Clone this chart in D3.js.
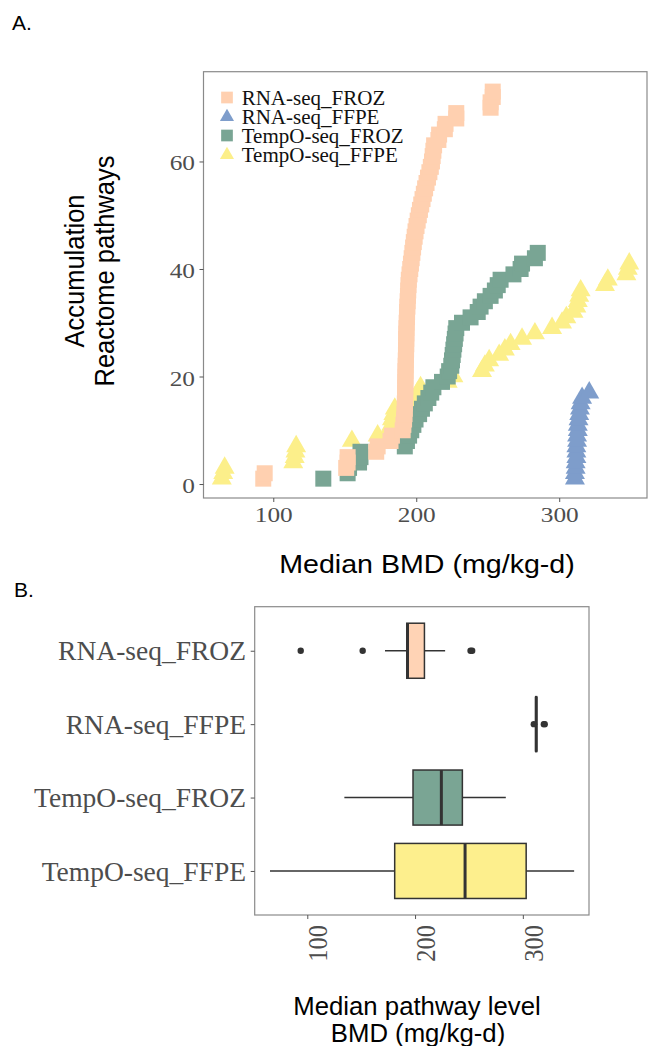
<!DOCTYPE html>
<html><head><meta charset="utf-8">
<script src="https://cdn.jsdelivr.net/npm/d3@7"></script>
<style>body{margin:0;background:#fff}svg{display:block}</style>
</head><body>
<svg id="c" width="648" height="1046"></svg>
<script>
// ---------- DATA ----------
const seriesNames = ["RNA-seq_FROZ", "RNA-seq_FFPE", "TempO-seq_FROZ", "TempO-seq_FFPE"];
const seriesColors = ["#FFD0B0", "#7E9DCB", "#79A594", "#FCEF8A"];
const seriesShapes = ["square", "triangle", "square", "triangle"];

// sorted median BMD of each pathway (panel A, cumulative)
const rnaFroz = [93,94,151,152,152,172,173,182,183,190.5,191,191.5,191.8,192,192,192.2,192.3,192.3,192.4,192.5,192.5,192.6,192.7,192.8,192.9,193,193,193.1,193.2,193.3,193.5,193.6,193.8,194,194.2,194.4,194.6,194.8,195.3,195.8,196.3,196.8,197.3,197.8,198.3,198.9,199.5,200.2,201,201.8,202.6,203.5,204.4,205.3,206.2,207.2,208.2,209.2,210.2,211,211.5,212,212.5,215.5,216,220,220.5,228,228,252,252,253.5,253.5];
const rnaFfpe = [311,311,311.5,311.5,312,312,312,312.5,312.5,313,313,313.5,314,314.5,315,316,321];
const tempoFroz = [135,152,153,160,161,161,192,193.5,195,196.5,198,199.5,202,204,206,208.5,210.5,212,218,222,223,224.5,225,225.5,226,226.5,227,227.5,228,232,238,243,245,248,252,255,257,259,268,273,274,283,285];
const tempoFfpe = [64,65,66,114,115,115.5,116,155,173,181,182.5,183,184,185,199,200,201,203,222,226,246,248,251,258,262,266,274,283,295,302,305,310,312,313,314,315,332,334,347,348,349];
const seriesValues = [rnaFroz, rnaFfpe, tempoFroz, tempoFfpe];

const xTicks = [100, 200, 300];
const yTicksA = [0, 20, 40, 60];

// panel B box statistics
const boxQ1  = [192.3, 312.0, 198.1, 181.1];
const boxMed = [193.0, 312.4, 224.4, 246.4];
const boxQ3  = [208.7, 312.8, 243.9, 303.1];
const boxLo  = [172.1, 311.5, 134.4, 65.4];
const boxHi  = [227.9, 313.5, 284.2, 347.6];
const boxOut = [[93.9, 151.4, 251.5, 253], [310.2, 319.5, 320.3], [], []];
const boxFill = ["#FFD3B5", "#7E9DCB", "#7AA594", "#FDEF8D"];

// ---------- SETUP ----------
const svg = d3.select("#c");
const SERIF = "'Liberation Serif','Times New Roman',serif";
const SANS = "'Liberation Sans',Arial,Helvetica,sans-serif";
const xDomain = [51.2, 361.4];

function label(parent, x, y, s, o) {
  let tr = `translate(${x},${y})`;
  if (o.sx) tr += ` scale(${o.sx},1)`;
  if (o.rot) tr += ` rotate(${o.rot})`;
  const g = parent.append("g").attr("transform", tr);
  g.append("text").text(s)
    .attr("font-family", o.ff || SERIF)
    .attr("font-size", o.fs)
    .attr("fill", o.fill || "#4d4d4d")
    .attr("text-anchor", o.anchor || "start");
  return g;
}

// ---------- PANEL A ----------
const A = {l: 203.5, r: 647, t: 71.7, b: 498};
const xA = d3.scaleLinear().domain(xDomain).range([A.l, A.r]);
const yA = d3.scaleLinear().domain([-2.6, 76.7]).range([A.b, A.t]);
const sq = d3.symbol().type(d3.symbolSquare).size(256);
const tri = d3.symbol().type(d3.symbolTriangle).size(173);

const gA = svg.append("g");
gA.append("rect").attr("x", A.l).attr("y", A.t).attr("width", A.r - A.l).attr("height", A.b - A.t)
  .attr("fill", "#fff");

// draw order: last legend entry first
[3, 2, 1, 0].forEach(i => {
  const g = gA.append("g").attr("fill", seriesColors[i]);
  g.selectAll("path").data(seriesValues[i]).join("path")
    .attr("d", seriesShapes[i] === "square" ? sq() : tri())
    .attr("transform", (d, k) => `translate(${xA(d)},${yA(k + 1)})`);
});

gA.append("rect").attr("x", A.l).attr("y", A.t).attr("width", A.r - A.l).attr("height", A.b - A.t)
  .attr("fill", "none").attr("stroke", "#8a8a8a").attr("stroke-width", 1.2);

const axA = gA.append("g").attr("transform", `translate(0,${A.b})`)
  .call(d3.axisBottom(xA).tickValues(xTicks).tickSize(4).tickSizeOuter(0));
axA.select(".domain").remove();
axA.selectAll("line").attr("stroke", "#555");
axA.selectAll("text").attr("y", 0).attr("dy", null)
  .attr("transform", "translate(0,24.3) scale(1.15,1)")
  .attr("font-family", SERIF).attr("font-size", 22).attr("fill", "#4d4d4d");

const ayA = gA.append("g").attr("transform", `translate(${A.l},0)`)
  .call(d3.axisLeft(yA).tickValues(yTicksA).tickSize(4).tickSizeOuter(0));
ayA.select(".domain").remove();
ayA.selectAll("line").attr("stroke", "#555");
ayA.selectAll("text").attr("x", 0).attr("dy", null)
  .attr("transform", "translate(-8.5,8.5) scale(1.15,1)")
  .attr("font-family", SERIF).attr("font-size", 22).attr("fill", "#4d4d4d");

// legend
const legY = [97.5, 116.5, 135.5, 154.5];
const sqL = d3.symbol().type(d3.symbolSquare).size(137);
const triL = d3.symbol().type(d3.symbolTriangle).size(86);
seriesNames.forEach((n, i) => {
  gA.append("path").attr("d", seriesShapes[i] === "square" ? sqL() : triL())
    .attr("transform", `translate(227,${legY[i] + (seriesShapes[i] === "square" ? 0 : 0.5)})`)
    .attr("fill", seriesColors[i]);
  label(gA, 241.7, legY[i] + 7.2, n, {fs: 21, fill: "#111"});
});

label(svg, 12, 30, "A.", {ff: SANS, fs: 21, fill: "#000"});
label(svg, 427, 573.3, "Median BMD (mg/kg-d)", {ff: SANS, fs: 26, sx: 1.1, anchor: "middle", fill: "#000"});
label(svg, 84, 271, "Accumulation", {ff: SANS, fs: 25.5, sx: 1.1, rot: -90, anchor: "middle", fill: "#000"});
label(svg, 113.5, 271, "Reactome pathways", {ff: SANS, fs: 25.5, sx: 1.1, rot: -90, anchor: "middle", fill: "#000"});

// ---------- PANEL B ----------
const B = {l: 254.7, r: 589, t: 606.7, b: 915};
const xB = d3.scaleLinear().domain(xDomain).range([B.l, B.r]);
const yB = d3.scalePoint().domain(seriesNames).range([B.t, B.b]).padding(0.6);
const bh = yB.step() * 0.75;

const gB = svg.append("g");
gB.append("rect").attr("x", B.l).attr("y", B.t).attr("width", B.r - B.l).attr("height", B.b - B.t)
  .attr("fill", "#fff").attr("stroke", "#8a8a8a").attr("stroke-width", 1.2);

seriesNames.forEach((n, i) => {
  const cy = yB(n);
  const g = gB.append("g").attr("stroke", "#333");
  g.append("line").attr("x1", xB(boxLo[i])).attr("x2", xB(boxQ1[i])).attr("y1", cy).attr("y2", cy).attr("stroke-width", 1.5);
  g.append("line").attr("x1", xB(boxQ3[i])).attr("x2", xB(boxHi[i])).attr("y1", cy).attr("y2", cy).attr("stroke-width", 1.5);
  g.append("rect").attr("x", xB(boxQ1[i])).attr("width", xB(boxQ3[i]) - xB(boxQ1[i]))
    .attr("y", cy - bh / 2).attr("height", bh).attr("fill", boxFill[i]).attr("stroke-width", 1.5);
  g.append("line").attr("x1", xB(boxMed[i])).attr("x2", xB(boxMed[i])).attr("y1", cy - bh / 2).attr("y2", cy + bh / 2).attr("stroke-width", 3);
  g.selectAll("circle").data(boxOut[i]).join("circle")
    .attr("cx", d => xB(d)).attr("cy", cy).attr("r", 3.2).attr("fill", "#333").attr("stroke", "none");
});

const axB = gB.append("g").attr("transform", `translate(0,${B.b})`)
  .call(d3.axisBottom(xB).tickValues(xTicks).tickSize(4).tickSizeOuter(0));
axB.select(".domain").remove();
axB.selectAll("line").attr("stroke", "#555");
axB.selectAll("text").attr("y", 0).attr("dy", null).attr("text-anchor", "end")
  .attr("transform", "translate(19.4,10) scale(1.12,1) rotate(-90)")
  .attr("font-family", SERIF).attr("font-size", 24.5).attr("fill", "#4d4d4d");

const ayB = gB.append("g").attr("transform", `translate(${B.l},0)`)
  .call(d3.axisLeft(yB).tickSize(4).tickSizeOuter(0));
ayB.select(".domain").remove();
ayB.selectAll("line").attr("stroke", "#555");
ayB.selectAll("text").attr("x", 0).attr("dy", null)
  .attr("transform", "translate(-8.7,9.2)")
  .attr("font-family", SERIF).attr("font-size", 27.5).attr("fill", "#4d4d4d");

label(svg, 14, 597, "B.", {ff: SANS, fs: 21, fill: "#000"});
label(svg, 417, 1015, "Median pathway level", {ff: SANS, fs: 25, sx: 1.03, anchor: "middle", fill: "#000"});
label(svg, 418, 1041.7, "BMD (mg/kg-d)", {ff: SANS, fs: 25, sx: 1.03, anchor: "middle", fill: "#000"});
</script>
</body></html>
